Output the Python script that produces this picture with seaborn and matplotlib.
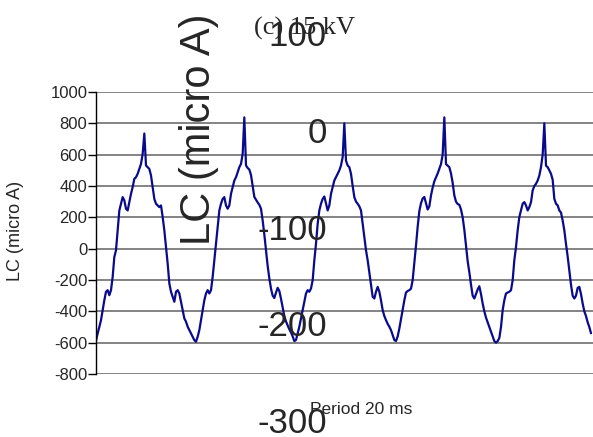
import numpy as np
import pandas as pd
import matplotlib
matplotlib.use("Agg")
import matplotlib.pyplot as plt
from matplotlib import font_manager
import seaborn as sns

# Leakage current, one list per 20 ms mains period (micro A), sampled every 1/3 ms
period_1 = [-590, -540, -500, -456, -392, -329, -275, -265, -297, -265,
            -180, -53, -10, 117, 244, 287, 329, 308, 255, 244,
            297, 350, 393, 446, 456, 478, 509, 541, 605, 735,
            531, 520, 509, 467, 393, 318, 287, 276, 265, 276,
            202, 117, 11, -95, -222, -275, -307, -339, -275, -265,
            -286, -339, -392, -445, -466, -498, -520, -541, -562, -584]
period_2 = [-594, -562, -520, -456, -392, -329, -286, -265, -286, -265,
            -180, -74, 32, 138, 244, 287, 318, 329, 276, 255,
            276, 350, 393, 435, 456, 488, 520, 541, 605, 838,
            531, 515, 505, 470, 400, 330, 312, 295, 280, 255,
            180, 90, -10, -110, -190, -255, -300, -315, -280, -250,
            -270, -320, -375, -430, -465, -490, -515, -535, -560, -590]
period_3 = [-583, -540, -498, -445, -392, -340, -286, -265, -275, -254,
            -201, -74, 32, 159, 244, 287, 318, 333, 287, 244,
            276, 350, 393, 435, 456, 478, 500, 531, 584, 800,
            562, 531, 520, 478, 400, 329, 300, 287, 270, 244,
            160, 75, -10, -74, -150, -222, -307, -318, -275, -244,
            -275, -330, -392, -430, -456, -480, -498, -520, -551, -583]
period_4 = [-590, -560, -510, -450, -390, -330, -280, -270, -265, -255,
            -200, -90, 20, 140, 240, 290, 320, 330, 290, 250,
            270, 340, 390, 430, 455, 480, 510, 540, 600, 838,
            540, 530, 520, 480, 420, 340, 300, 285, 280, 250,
            200, 120, 20, -80, -150, -230, -300, -318, -290, -260,
            -240, -290, -350, -400, -440, -470, -500, -530, -560, -590]
period_5 = [-600, -590, -570, -500, -392, -329, -286, -280, -275, -265,
            -201, -74, 11, 117, 202, 244, 287, 297, 276, 244,
            265, 297, 372, 400, 414, 435, 467, 520, 600, 800,
            530, 520, 500, 478, 440, 318, 287, 276, 244, 230,
            180, 117, 30, -50, -138, -230, -300, -318, -300, -250,
            -244, -290, -350, -400, -430, -470, -500, -540]

SAMPLE_MS = 1.0 / 3.0
lc = np.concatenate([period_1, period_2, period_3, period_4, period_5])
t_ms = np.arange(lc.size) * SAMPLE_MS
df = pd.DataFrame({"t_ms": t_ms, "lc": lc})

main_ticks = [1000, 800, 600, 400, 200, 0, -200, -400, -600, -800]
overlay_ticks = [100, 0, -100, -200, -300]

sns.set_style("white")
plt.rcParams["font.family"] = ["Liberation Sans", "DejaVu Sans"]


def has_font(name):
    try:
        font_manager.findfont(font_manager.FontProperties(family=name),
                              fallback_to_default=False)
        return True
    except Exception:
        return False


narrow = None
for cand in ["Liberation Sans Narrow", "Arial Narrow", "DejaVu Sans Condensed"]:
    if has_font(cand):
        narrow = cand
        break

W, H = 593, 437
fig = plt.figure(figsize=(W / 100, H / 100), dpi=100)
fig.patch.set_facecolor("white")


def px_box(x0, y_top, x1, y_bot):
    return [x0 / W, (H - y_bot) / H, (x1 - x0) / W, (y_bot - y_top) / H]


ax = fig.add_axes(px_box(96, 92, 593, 374))
sns.lineplot(data=df, x="t_ms", y="lc", ax=ax, color="#0a0a8c",
             linewidth=1.6, sort=False, estimator=None)

ax.set_xlim(0, 99.4)
ax.set_ylim(-800, 1000)
ax.set_yticks(main_ticks)
ax.set_yticklabels([str(v) for v in main_ticks])
ax.set_xticks([])
ax.tick_params(axis="y", direction="out", length=5.5, width=1, color="black",
               pad=0.8, labelsize=12, left=True)
for v in main_ticks:
    ax.axhline(v, color="#7a7a7a", linewidth=1.3, zorder=0)
for side in ["top", "right", "bottom"]:
    ax.spines[side].set_visible(False)
ax.spines["left"].set_color("black")
ax.spines["left"].set_linewidth(1.0)
ax.patch.set_alpha(0)

ax.set_ylabel("LC (micro A)", fontsize=13, va="center")
ax.yaxis.set_label_coords((16 - 96) / 497, (374 - 231) / 282)
ax.set_xlabel("Period 20 ms", fontsize=12.5, va="center")
ax.xaxis.set_label_coords((361 - 96) / 497, (374 - 409) / 282)
ax.set_title("(c) 15 kV", family=["Liberation Serif", "DejaVu Serif"],
             fontsize=19, x=(305 - 96) / 497, y=(374 - 28) / 282,
             va="center", pad=0)

# Second, larger value scale laid over the plot
ax2 = fig.add_axes(px_box(331, 33.5, 593, 420))
ax2.set_ylim(-300, 100)
ax2.set_xlim(0, 1)
ax2.set_yticks(overlay_ticks)
num_family = [narrow, "Liberation Sans"] if narrow else ["Liberation Sans"]
num_size = 27 if narrow else 25
ax2.set_yticklabels([str(v) for v in overlay_ticks], family=num_family,
                    fontsize=num_size)
ax2.tick_params(axis="y", length=0, pad=3)
ax2.set_xticks([])
for s in ax2.spines.values():
    s.set_visible(False)
ax2.patch.set_alpha(0)
ax2.set_ylabel("LC (micro A)", fontsize=30, va="center", ha="center")
ax2.yaxis.set_label_coords((199 - 331) / 262, (420 - 129) / 386.5)

fig.savefig("out.png", dpi=100, facecolor="white")
